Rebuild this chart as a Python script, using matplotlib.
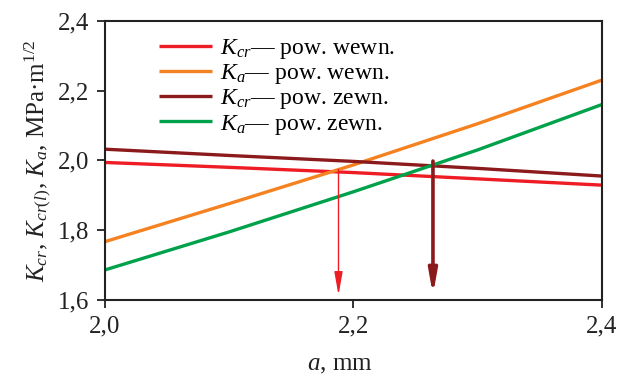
import numpy as np
import matplotlib
matplotlib.use('Agg')
import matplotlib.pyplot as plt

plt.rcParams['font.family'] = ['Liberation Serif', 'DejaVu Serif']
plt.rcParams['mathtext.fontset'] = 'custom'
plt.rcParams['mathtext.rm'] = 'Liberation Serif'
plt.rcParams['mathtext.it'] = 'Liberation Serif:italic'

# crack length, mm
a = [2.0, 2.1, 2.2, 2.3, 2.4]

# stress intensity values, MPa*m^1/2
kcr_wewn = [1.994, 1.980, 1.965, 1.947, 1.929]
ka_wewn = [1.767, 1.876, 1.987, 2.105, 2.230]
kcr_zewn = [2.032, 2.014, 1.997, 1.977, 1.955]
ka_zewn = [1.686, 1.795, 1.910, 2.030, 2.160]

# critical crack lengths (arrows)
arrow_a = [2.188, 2.264]
arrow_top = [1.974, 1.998]
arrow_end = 1.614

labels = [r'$K_{cr}$— pow. wewn.', r'$K_a$— pow. wewn.',
          r'$K_{cr}$— pow. zewn.', r'$K_a$— pow. zewn.']
colors = ['#ee1c25', '#f58220', '#8b1a1d', '#00a14b']

fig = plt.figure(figsize=(6.2, 3.79), dpi=100)
ax = fig.add_axes([0.169, 0.2084, 0.802, 0.737])

series = [kcr_wewn, ka_wewn, kcr_zewn, ka_zewn]
for y, c, lab in zip(series, colors, labels):
    ax.plot(a, y, color=c, lw=2.4, label=lab, solid_capstyle='butt')

# small joins at the edges
ax.plot([a[0], a[0]], [ka_zewn[0], ka_wewn[0]], color=colors[3], lw=1.2)
ax.plot([a[-1], a[-1]], [kcr_zewn[-1], ka_zewn[-1]], color=colors[2], lw=1.0)

# arrows
for x0, y0, c, w in zip(arrow_a, arrow_top, [colors[0], colors[2]], [1.0, 2.6]):
    ax.annotate('', xy=(x0, arrow_end), xytext=(x0, y0),
                arrowprops=dict(arrowstyle='-|>,head_length=1.4,head_width=0.25',
                                color=c, lw=w, mutation_scale=10,
                                shrinkA=0, shrinkB=0))

ax.set_xlim(2.0, 2.4)
ax.set_ylim(1.6, 2.4)
ax.set_xticks([2.0, 2.2, 2.4])
ax.set_yticks([1.6, 1.8, 2.0, 2.2, 2.4])
ax.set_xticklabels(['2,0', '2,2', '2,4'])
ax.set_yticklabels(['1,6', '1,8', '2,0', '2,2', '2,4'])
ax.tick_params(direction='out', length=6, width=1.3, labelsize=18,
               colors='#222222', pad=5)
for s in ax.spines.values():
    s.set_linewidth(1.5)
    s.set_color('#222222')

ax.set_xlabel(r'$a$, mm', fontsize=18, color='#222222')
ax.xaxis.set_label_coords(0.473, -0.195)
ax.set_ylabel(r'$K_{cr}$, $K_{cr(l)}$, $K_a$, MPa·m$^{1/2}$', fontsize=18,
              color='#222222', labelpad=4)

ax.legend(loc='upper left', bbox_to_anchor=(0.09, 0.975), frameon=False,
          fontsize=17, handlelength=2.25, labelspacing=0.05, handletextpad=0.35,
          borderaxespad=0)

fig.savefig('out.png', dpi=100)
